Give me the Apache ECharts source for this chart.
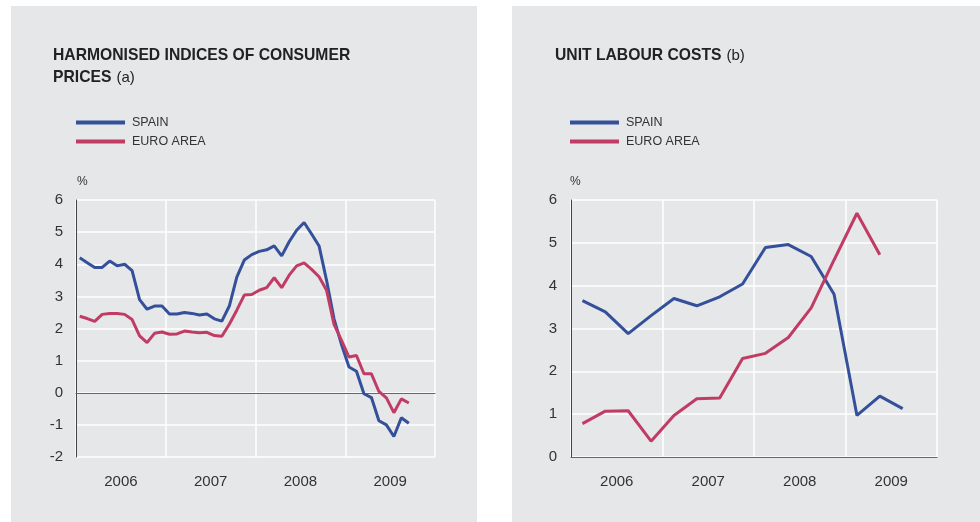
<!DOCTYPE html>
<html>
<head>
<meta charset="utf-8">
<script src="https://cdn.jsdelivr.net/npm/echarts@6/dist/echarts.min.js"></script>
<style>
html,body{margin:0;padding:0;background:#ffffff;}
#c{width:980px;height:522px;}
</style>
</head>
<body>
<div id="c"></div>
<script>
// ---- Data ----
var years = ['2006', '2007', '2008', '2009'];

// HICP, monthly annual rates, Jan 2006 - Sep 2009
var hicpSpain = [4.2, 4.05, 3.9, 3.9, 4.1, 3.95, 4.0, 3.8, 2.9, 2.6, 2.7, 2.7,
                 2.45, 2.45, 2.5, 2.47, 2.42, 2.45, 2.3, 2.23, 2.7, 3.6, 4.13, 4.3,
                 4.4, 4.45, 4.57, 4.26, 4.7, 5.06, 5.3, 4.94, 4.57, 3.5, 2.3, 1.5,
                 0.8, 0.67, -0.03, -0.15, -0.87, -1.0, -1.36, -0.78, -0.95];
var hicpEuro = [2.38, 2.31, 2.22, 2.44, 2.47, 2.47, 2.44, 2.28, 1.77, 1.56, 1.85, 1.89,
                1.82, 1.83, 1.92, 1.89, 1.87, 1.88, 1.78, 1.76, 2.13, 2.57, 3.04, 3.06,
                3.19, 3.27, 3.58, 3.27, 3.66, 3.95, 4.04, 3.84, 3.61, 3.19, 2.13, 1.63,
                1.11, 1.16, 0.59, 0.59, 0.04, -0.16, -0.62, -0.19, -0.32];

// Unit labour costs, quarterly, Q1 2006 - Q3 2009
var ulcSpain = [3.65, 3.39, 2.88, 3.3, 3.7, 3.53, 3.74, 4.04, 4.89, 4.96, 4.68, 3.8, 0.97, 1.42, 1.13];
var ulcEuro = [0.78, 1.07, 1.08, 0.37, 0.97, 1.36, 1.38, 2.3, 2.42, 2.79, 3.48, 4.6, 5.69, 4.72];

var leftTicks = [-2, -1, 0, 1, 2, 3, 4, 5, 6];
var rightTicks = [0, 1, 2, 3, 4, 5, 6];

function toPoints(arr) {
  return arr.map(function (v, i) { return [i + 0.5, v]; });
}

var BLUE = '#34509b';
var RED = '#c13c64';
var PANEL = '#e6e7e8';
var FONT = '"Liberation Sans", Arial, Helvetica, sans-serif';

function catAxis(gridIndex) {
  return {
    type: 'category', gridIndex: gridIndex, data: years, boundaryGap: true,
    axisLine: {show: true, lineStyle: {color: '#666', width: 1}},
    axisTick: {show: false},
    axisLabel: {color: '#333', fontSize: 15, fontFamily: FONT, margin: 17},
    splitLine: {show: true, lineStyle: {color: '#ffffff', width: 1.5}}
  };
}
function valXAxis(gridIndex, max) {
  return {
    type: 'value', gridIndex: gridIndex, min: 0, max: max, show: false,
    splitLine: {show: false}
  };
}
function yAxis(gridIndex, min, max, margin) {
  return {
    type: 'value', gridIndex: gridIndex, min: min, max: max, interval: 1,
    axisLine: {show: true, lineStyle: {color: '#444', width: 1}},
    axisTick: {show: false},
    axisLabel: {color: '#333', fontSize: 15, fontFamily: FONT, margin: margin},
    splitLine: {show: true, lineStyle: {color: '#ffffff', width: 1.5}}
  };
}
function lineSeries(name, data, xIdx, yIdx, color, extra) {
  var s = {
    name: name, type: 'line', xAxisIndex: xIdx, yAxisIndex: yIdx,
    data: toPoints(data), symbol: 'none', smooth: false,
    lineStyle: {color: color, width: 3},
    itemStyle: {color: color}, z: 5
  };
  if (extra) { for (var k in extra) s[k] = extra[k]; }
  return s;
}

var chart = echarts.init(document.getElementById('c'), null, {renderer: 'canvas'});

var titleRich = {
  b: {fontWeight: 'bold', fontSize: 15.7, color: '#222', fontFamily: FONT, lineHeight: 22},
  n: {fontWeight: 'normal', fontSize: 15, color: '#222', fontFamily: FONT, lineHeight: 22}
};

var legendText = {color: '#333', fontSize: 12.5, fontFamily: FONT, padding: [0, 0, 0, 2]};

var option = {
  animation: false,
  backgroundColor: '#ffffff',
  graphic: [
    {type: 'rect', shape: {x: 11, y: 6, width: 466, height: 516}, style: {fill: PANEL}, z: -10, silent: true},
    {type: 'rect', shape: {x: 512, y: 6, width: 468, height: 516}, style: {fill: PANEL}, z: -10, silent: true},
    {type: 'text', left: 77, top: 176, style: {text: '%', fill: '#333', font: '12px ' + FONT}},
    {type: 'text', left: 570, top: 176, style: {text: '%', fill: '#333', font: '12px ' + FONT}}
  ],
  title: [
    {text: '{b|HARMONISED INDICES OF CONSUMER}\n{b|PRICES} {n|(a)}', left: 48, top: 40,
     textStyle: {rich: titleRich}},
    {text: '{b|UNIT LABOUR COSTS} {n|(b)}', left: 550, top: 40,
     textStyle: {rich: titleRich}}
  ],
  legend: [
    {data: ['SPAIN', 'EURO AREA'], orient: 'vertical', left: 71, top: 111, itemWidth: 49, itemHeight: 4,
     itemGap: 6, icon: 'rect', textStyle: legendText, selectedMode: false},
    {data: ['SPAIN', 'EURO AREA'], orient: 'vertical', left: 565, top: 111, itemWidth: 49, itemHeight: 4,
     itemGap: 6, icon: 'rect', textStyle: legendText, selectedMode: false}
  ],
  grid: [
    {left: 76, right: 545, top: 200, bottom: 65, containLabel: false},
    {left: 571, right: 43, top: 200, bottom: 65, containLabel: false}
  ],
  xAxis: [catAxis(0), valXAxis(0, 48), catAxis(1), valXAxis(1, 16)],
  yAxis: [yAxis(0, leftTicks[0], leftTicks[leftTicks.length - 1], 13),
          yAxis(1, rightTicks[0], rightTicks[rightTicks.length - 1], 14)],
  series: [
    lineSeries('SPAIN', hicpSpain, 1, 0, BLUE, {
      markLine: {silent: true, symbol: 'none', label: {show: false},
                 lineStyle: {color: '#666', width: 1, type: 'solid'}, data: [{yAxis: 0}], z: 3}
    }),
    lineSeries('EURO AREA', hicpEuro, 1, 0, RED),
    lineSeries('SPAIN', ulcSpain, 3, 1, BLUE),
    lineSeries('EURO AREA', ulcEuro, 3, 1, RED)
  ]
};
chart.setOption(option);
</script>
</body>
</html>
